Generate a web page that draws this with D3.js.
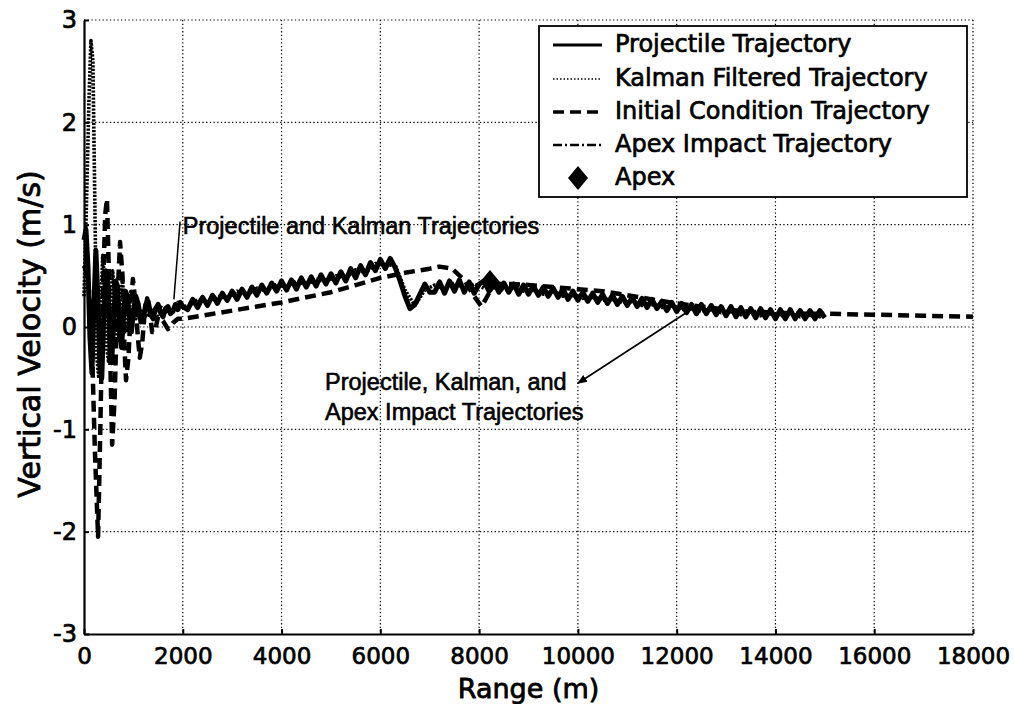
<!DOCTYPE html>
<html>
<head>
<meta charset="utf-8">
<script src="https://cdn.jsdelivr.net/npm/d3@7"></script>
<style>
  body { margin: 0; background: #fff; }
  svg { display: block; }
</style>
</head>
<body>
<svg id="chart" width="1014" height="704"></svg>
<script>
// ---- axis ticks ----
const rangeTicks = [0, 2000, 4000, 6000, 8000, 10000, 12000, 14000, 16000, 18000];
const velocityTicks = [-3, -2, -1, 0, 1, 2, 3];

// ---- Projectile trajectory (solid) ----
const projectileEarlyRange = [0, 40, 80, 120, 160, 200, 240, 280, 320, 360, 400, 440, 480, 520, 560, 600, 640, 680, 720, 760, 800, 840, 880, 920, 960, 1000, 1050, 1100, 1150, 1200, 1250, 1300, 1350, 1400, 1450, 1500, 1550, 1600, 1650, 1700, 1750, 1800, 1850, 1900, 1950, 2000];
const projectileEarlyVelocity = [0.85, 0.95, 0.6, -0.1, -0.45, 0.2, 0.75, 0.3, -0.35, -0.5, 0.1, 0.55, 0.45, -0.1, -0.35, 0.05, 0.45, 0.4, 0.0, -0.2, 0.1, 0.35, 0.3, 0.05, -0.05, 0.15, 0.3, 0.22, 0.05, 0.08, 0.22, 0.25, 0.12, 0.08, 0.18, 0.22, 0.14, 0.1, 0.18, 0.2, 0.13, 0.15, 0.22, 0.17, 0.24, 0.2];
const projectileLateRange = d3.range(2100, 15001, 100);
const projectileLateVelocity = [
  0.17, 0.27, 0.19, 0.29, 0.21, 0.31, 0.23, 0.33, 0.26, 0.35,
  0.27, 0.37, 0.29, 0.39, 0.31, 0.41, 0.33, 0.43, 0.35, 0.45,
  0.36, 0.46, 0.37, 0.48, 0.39, 0.49, 0.40, 0.51, 0.42, 0.52,
  0.43, 0.54, 0.45, 0.57, 0.48, 0.60, 0.51, 0.63, 0.55, 0.66,
  0.57, 0.67, 0.58, 0.45, 0.30, 0.18, 0.22, 0.32, 0.42, 0.34,
  0.34, 0.44, 0.33, 0.45, 0.35, 0.46, 0.34, 0.44, 0.33, 0.42,
  0.45, 0.35, 0.44, 0.34, 0.43, 0.34, 0.42, 0.32, 0.41, 0.32,
  0.40, 0.31, 0.39, 0.30, 0.38, 0.29, 0.37, 0.27, 0.35, 0.26,
  0.34, 0.25, 0.33, 0.24, 0.32, 0.23, 0.31, 0.22, 0.30, 0.21,
  0.29, 0.20, 0.28, 0.19, 0.27, 0.18, 0.25, 0.16, 0.24, 0.15,
  0.23, 0.14, 0.22, 0.13, 0.22, 0.13, 0.21, 0.12, 0.20, 0.11,
  0.20, 0.10, 0.19, 0.10, 0.18, 0.09, 0.18, 0.09, 0.17, 0.08,
  0.17, 0.08, 0.17, 0.08, 0.16, 0.08, 0.16, 0.08, 0.16, 0.09
];

// ---- Kalman filtered trajectory (dotted) ----
const kalmanEarlyRange = [0, 50, 100, 140, 180, 220, 260, 300, 340, 380, 420, 460, 500, 540, 580, 620, 660, 700, 740, 780, 820, 860, 900, 950, 1000, 1050];
const kalmanEarlyVelocity = [0.3, 1.2, 2.2, 2.8, 2.6, 1.2, -0.3, -0.5, 0.2, 0.7, 0.4, -0.2, -0.35, 0.2, 0.55, 0.3, -0.1, -0.15, 0.3, 0.45, 0.2, -0.05, 0.05, 0.35, 0.3, 0.08];
const kalmanLateRange = d3.range(1100, 15000, 200);
const kalmanLateVelocity = [
  0.18, 0.10, 0.22, 0.13, 0.24,
  0.19, 0.27, 0.24, 0.30, 0.28,
  0.35, 0.31, 0.38, 0.35, 0.42,
  0.39, 0.45, 0.41, 0.47, 0.44,
  0.50, 0.48, 0.56, 0.53, 0.62,
  0.60, 0.61, 0.36, 0.21, 0.36,
  0.41, 0.37, 0.43, 0.38, 0.42,
  0.38, 0.41, 0.36, 0.39, 0.35,
  0.37, 0.32, 0.35, 0.30, 0.32,
  0.28, 0.30, 0.26, 0.28, 0.24,
  0.25, 0.21, 0.23, 0.19, 0.21,
  0.17, 0.19, 0.15, 0.18, 0.14,
  0.16, 0.12, 0.15, 0.11, 0.14,
  0.11, 0.13, 0.10, 0.13, 0.10
];

// ---- Initial condition trajectory (dashed) ----
const initialRange = [0, 80, 150, 220, 285, 330, 380, 430, 465, 500, 540, 570, 620, 670, 730, 780, 820, 850, 900, 950, 990, 1040, 1090, 1130, 1180, 1230, 1280, 1330, 1380, 1430, 1500, 1600, 1700, 1800, 1900, 2000, 2500, 3000, 3500, 4000, 4500, 5000, 5500, 6000, 6500, 7000, 7200, 7450, 7700, 7900, 8050, 8200, 8400, 8700, 9000, 9500, 10000, 10500, 11000, 11500, 12000, 12500, 13000, 13500, 14000, 14500, 15000, 16000, 17000, 18000];
const initialVelocity = [0.6, 0.5, 0.0, -1.2, -2.05, -1.0, 0.3, 1.1, 1.25, 0.6, -0.5, -1.15, -0.7, 0.2, 0.83, 0.5, -0.2, -0.52, -0.3, 0.2, 0.47, 0.25, -0.1, -0.3, -0.15, 0.15, 0.28, 0.15, -0.05, -0.05, 0.1, 0.06, -0.02, 0.04, 0.08, 0.08, 0.12, 0.16, 0.2, 0.24, 0.29, 0.34, 0.41, 0.48, 0.53, 0.57, 0.59, 0.57, 0.46, 0.3, 0.2, 0.33, 0.42, 0.42, 0.41, 0.39, 0.37, 0.35, 0.31, 0.27, 0.23, 0.2, 0.17, 0.15, 0.14, 0.13, 0.13, 0.12, 0.11, 0.10];

// ---- Apex impact trajectory (dash-dot) ----
const apexImpactRange = d3.range(8200, 15001, 200);
const apexImpactVelocity = [0.44, 0.40, 0.38, 0.39, 0.36, 0.35, 0.34, 0.33, 0.31, 0.30, 0.29, 0.28, 0.27, 0.26, 0.25, 0.23, 0.22, 0.21, 0.20, 0.19, 0.18, 0.17, 0.17, 0.16, 0.15, 0.14, 0.14, 0.13, 0.13, 0.12, 0.12, 0.12, 0.11, 0.11, 0.11];

// ---- Apex point ----
const apexRange = [8220];
const apexVelocity = [0.44];

// ---- annotations ----
const noteKalman = "Projectile and Kalman Trajectories";
const noteKalmanAt = [2000, 0.91];
const noteKalmanLeader = [[1820, 0.27], [1945, 1.03]];
const noteAllLines = ["Projectile, Kalman, and", "Apex Impact Trajectories"];
const noteAllAt = [[4880, -0.616], [4880, -0.909]];
const noteAllArrow = [[12310, 0.176], [10000, -0.55]];

const legendLabels = ["Projectile Trajectory", "Kalman Filtered Trajectory", "Initial Condition Trajectory", "Apex Impact Trajectory", "Apex"];

// ---- layout ----
const svg = d3.select("#chart");
const plot = { left: 84, right: 973, top: 20, bottom: 634 };
const x = d3.scaleLinear().domain([0, 18000]).range([plot.left, plot.right]);
const y = d3.scaleLinear().domain([-3, 3]).range([plot.bottom, plot.top]);

const zipPts = (xs, ys) => xs.map((v, i) => [v, ys[i]]);
const line = d3.line().x(d => x(d[0])).y(d => y(d[1]));

// heavy text, like a scanned print
const inkText = (sel, w) => sel.attr("fill", "#000").attr("stroke", "#000")
  .attr("stroke-width", w).attr("paint-order", "stroke");

// grid
const grid = svg.append("g").attr("stroke", "#000").attr("stroke-width", 1.2)
  .attr("stroke-dasharray", "1.3,2.4").attr("fill", "none");
grid.selectAll("line.gx").data(rangeTicks.filter(d => d > 0)).join("line")
  .attr("class", "gx")
  .attr("x1", d => x(d)).attr("x2", d => x(d))
  .attr("y1", plot.top).attr("y2", plot.bottom);
grid.selectAll("line.gy").data(velocityTicks.filter(d => d > -3)).join("line")
  .attr("class", "gy")
  .attr("x1", plot.left).attr("x2", plot.right)
  .attr("y1", d => y(d)).attr("y2", d => y(d));

// series
const series = svg.append("g").attr("fill", "none").attr("stroke", "#000").attr("stroke-linejoin", "round");
series.append("path")
  .datum(zipPts(initialRange, initialVelocity))
  .attr("d", line).attr("stroke-width", 4.5).attr("stroke-dasharray", "11,6");
series.append("path")
  .datum(zipPts(apexImpactRange, apexImpactVelocity))
  .attr("d", line).attr("stroke-width", 3).attr("stroke-dasharray", "9,3,2,3");
series.append("path")
  .datum(zipPts(kalmanEarlyRange.concat(kalmanLateRange, [15000]), kalmanEarlyVelocity.concat(kalmanLateVelocity, [0.11])))
  .attr("d", line).attr("stroke-width", 3.6).attr("stroke-dasharray", "2.2,1.4");
series.append("path")
  .datum(zipPts(projectileEarlyRange.concat(projectileLateRange), projectileEarlyVelocity.concat(projectileLateVelocity)))
  .attr("d", line).attr("stroke-width", 5);

// apex marker
const diamond = "M0,-12L10,0L0,12L-10,0Z";
svg.append("g").selectAll("path").data(zipPts(apexRange, apexVelocity)).join("path")
  .attr("transform", d => `translate(${x(d[0])},${y(d[1])})`)
  .attr("d", diamond).attr("fill", "#000");

// axes
const axisFont = "'DejaVu Sans', Verdana, sans-serif";
const xAxis = svg.append("g").attr("transform", `translate(0,${plot.bottom})`)
  .call(d3.axisBottom(x).tickValues(rangeTicks).tickFormat(d3.format("d")).tickSize(-5).tickPadding(14).tickSizeOuter(0));
const yAxis = svg.append("g").attr("transform", `translate(${plot.left},0)`)
  .call(d3.axisLeft(y).tickValues(velocityTicks).tickFormat(d3.format("d")).tickSize(-5).tickPadding(7).tickSizeOuter(0));
[xAxis, yAxis].forEach(g => {
  g.select(".domain").attr("stroke", "#000").attr("stroke-width", 2.2);
  g.selectAll(".tick line").attr("stroke", "#000").attr("stroke-width", 2);
  g.selectAll(".tick text").call(inkText, 0.7).style("font-family", axisFont).style("font-size", "23px");
});
yAxis.selectAll(".tick text").text(d => d < 0 ? "-" + Math.abs(d) : d).style("font-size", "24px");

svg.append("text")
  .attr("x", (plot.left + plot.right) / 2).attr("y", 698)
  .attr("text-anchor", "middle")
  .style("font-family", axisFont).style("font-size", "27px")
  .call(inkText, 0.8)
  .text("Range (m)");
svg.append("text")
  .attr("transform", `translate(40,334) rotate(-90)`)
  .attr("text-anchor", "middle")
  .style("font-family", axisFont).style("font-size", "30px")
  .call(inkText, 0.8)
  .text("Vertical Velocity (m/s)");

// annotations
const noteFont = "'Liberation Sans', Arial, sans-serif";
svg.append("path").datum(noteKalmanLeader).attr("d", line)
  .attr("stroke", "#000").attr("stroke-width", 1.5).attr("fill", "none");
svg.append("text")
  .attr("x", x(noteKalmanAt[0])).attr("y", y(noteKalmanAt[1]))
  .style("font-family", noteFont).style("font-size", "23.5px")
  .call(inkText, 0.6)
  .text(noteKalman);
svg.selectAll("text.noteAll").data(noteAllLines).join("text")
  .attr("class", "noteAll")
  .attr("x", (d, i) => x(noteAllAt[i][0])).attr("y", (d, i) => y(noteAllAt[i][1]))
  .style("font-family", noteFont).style("font-size", "23.5px")
  .call(inkText, 0.6)
  .text(d => d);
svg.append("defs").append("marker")
  .attr("id", "head").attr("viewBox", "0 0 10 10").attr("refX", 9).attr("refY", 5)
  .attr("markerWidth", 10).attr("markerHeight", 10).attr("markerUnits", "userSpaceOnUse")
  .attr("orient", "auto")
  .append("path").attr("d", "M0,1L10,5L0,9Z").attr("fill", "#000");
svg.append("path").datum(noteAllArrow).attr("d", line)
  .attr("stroke", "#000").attr("stroke-width", 1.6).attr("fill", "none")
  .attr("marker-end", "url(#head)");

// legend
const legend = svg.append("g").attr("transform", "translate(539,26)");
legend.append("rect").attr("width", 428).attr("height", 171)
  .attr("fill", "#fff").attr("stroke", "#000").attr("stroke-width", 1.8);
const rowY = [19, 53, 86, 119, 152];
const legendStyles = [
  { w: 3, dash: null },
  { w: 1.6, dash: "1.5,2" },
  { w: 3.5, dash: "11,6" },
  { w: 2.5, dash: "9,3,2,3" }
];
legendStyles.forEach((s, i) => {
  legend.append("line")
    .attr("x1", 14).attr("x2", 63).attr("y1", rowY[i]).attr("y2", rowY[i])
    .attr("stroke", "#000").attr("stroke-width", s.w)
    .attr("stroke-dasharray", s.dash);
});
legend.append("path").attr("transform", `translate(39,${rowY[4]})`)
  .attr("d", diamond).attr("fill", "#000");
legend.selectAll("text").data(legendLabels).join("text")
  .attr("x", 76).attr("y", (d, i) => rowY[i] + 7)
  .style("font-family", axisFont).style("font-size", "24px")
  .call(inkText, 0.7)
  .text(d => d);
</script>
</body>
</html>
